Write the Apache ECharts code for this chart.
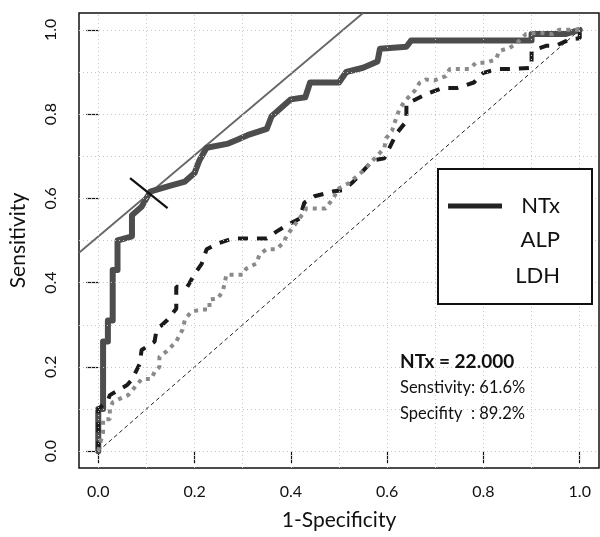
<!DOCTYPE html>
<html>
<head>
<meta charset="utf-8">
<script src="https://cdn.jsdelivr.net/npm/echarts@6/dist/echarts.min.js"></script>
<style>
  html, body { margin: 0; padding: 0; background: #fff; }
  #chart { width: 600px; height: 537px; }
</style>
</head>
<body>
<div id="chart"></div>
<script>
// tick labels and dotted grid positions
const xTicks = [0, 0.2, 0.4, 0.6, 0.8, 1.0]
const yTicks = [0, 0.2, 0.4, 0.6, 0.8, 1.0]
const gridSteps = [0, 0.1, 0.2, 0.3, 0.4, 0.5, 0.6, 0.7, 0.8, 0.9, 1.0]

// NTx ROC curve (1-specificity, sensitivity)
const ntxX = [0, 0, 0.01, 0.01, 0.02, 0.02, 0.03, 0.03, 0.04, 0.04, 0.07, 0.07, 0.09, 0.1, 0.108, 0.12, 0.15, 0.18, 0.2, 0.21, 0.225, 0.27, 0.29, 0.31, 0.35, 0.36, 0.38, 0.4, 0.43, 0.44, 0.5, 0.515, 0.55, 0.58, 0.585, 0.64, 0.65, 0.9, 0.9, 0.97, 1.0]
const ntxY = [0, 0.1, 0.1, 0.26, 0.26, 0.31, 0.31, 0.43, 0.43, 0.5, 0.51, 0.56, 0.58, 0.6, 0.616, 0.62, 0.63, 0.64, 0.66, 0.69, 0.72, 0.73, 0.74, 0.75, 0.765, 0.795, 0.815, 0.835, 0.84, 0.875, 0.875, 0.9, 0.91, 0.925, 0.955, 0.96, 0.975, 0.975, 0.99, 0.99, 1.0]

// ALP ROC curve
const alpX = [0, 0, 0.02, 0.024, 0.06, 0.07, 0.086, 0.09, 0.117, 0.121, 0.144, 0.162, 0.162, 0.185, 0.2, 0.215, 0.225, 0.248, 0.28, 0.35, 0.37, 0.39, 0.418, 0.428, 0.449, 0.49, 0.51, 0.53, 0.549, 0.57, 0.594, 0.62, 0.64, 0.64, 0.68, 0.715, 0.745, 0.78, 0.8, 0.83, 0.86, 0.9, 0.9, 0.93, 0.95, 0.98, 1.0, 1.0]
const alpY = [0, 0.1, 0.12, 0.133, 0.157, 0.17, 0.207, 0.24, 0.26, 0.288, 0.312, 0.338, 0.39, 0.39, 0.42, 0.445, 0.479, 0.493, 0.505, 0.505, 0.521, 0.535, 0.552, 0.59, 0.605, 0.617, 0.62, 0.64, 0.664, 0.69, 0.695, 0.755, 0.783, 0.824, 0.847, 0.862, 0.862, 0.875, 0.898, 0.907, 0.907, 0.91, 0.95, 0.962, 0.962, 0.978, 0.98, 1.0]

// LDH ROC curve
const ldhX = [0, 0.01, 0.01, 0.024, 0.024, 0.03, 0.044, 0.062, 0.09, 0.11, 0.117, 0.127, 0.127, 0.141, 0.162, 0.169, 0.175, 0.18, 0.193, 0.215, 0.231, 0.231, 0.248, 0.258, 0.262, 0.266, 0.283, 0.3, 0.307, 0.328, 0.335, 0.349, 0.37, 0.383, 0.393, 0.424, 0.432, 0.451, 0.472, 0.488, 0.5, 0.52, 0.549, 0.594, 0.598, 0.61, 0.62, 0.625, 0.636, 0.657, 0.667, 0.68, 0.698, 0.722, 0.73, 0.75, 0.77, 0.785, 0.805, 0.826, 0.833, 0.854, 0.868, 0.888, 0.915, 0.943, 0.957, 1.0]
const ldhY = [0, 0.045, 0.076, 0.076, 0.1, 0.116, 0.124, 0.133, 0.171, 0.171, 0.188, 0.2, 0.224, 0.236, 0.26, 0.276, 0.288, 0.312, 0.331, 0.336, 0.336, 0.36, 0.362, 0.379, 0.395, 0.419, 0.419, 0.419, 0.433, 0.445, 0.467, 0.479, 0.479, 0.493, 0.514, 0.562, 0.576, 0.576, 0.576, 0.6, 0.624, 0.636, 0.664, 0.719, 0.743, 0.76, 0.795, 0.81, 0.83, 0.855, 0.874, 0.882, 0.88, 0.89, 0.907, 0.907, 0.907, 0.922, 0.922, 0.93, 0.95, 0.957, 0.967, 0.99, 0.993, 0.99, 1.0, 1.0]

// chance diagonal, tangent at the cut-off and the cut-off mark
const diagX = [0, 1]
const diagY = [0, 1]
const tangentX = [-0.04, 0.55]
const tangentY = [0.471, 1.04]
const cutX = [0.066, 0.144]
const cutY = [0.648, 0.577]

const pairs = (xs, ys) => xs.map((x, i) => [x, ys[i]])
const font = 'Lato, "Open Sans", sans-serif'

const gridMarks = gridSteps.map(v => ({ xAxis: v })).concat(gridSteps.map(v => ({ yAxis: v })))

const chart = echarts.init(document.getElementById('chart'))
chart.setOption({
  animation: false,
  backgroundColor: '#fff',
  grid: {
    left: 78,
    right: 1,
    top: 13,
    bottom: 69,
    show: true,
    borderColor: '#111',
    borderWidth: 1.5
  },
  xAxis: {
    type: 'value',
    min: -0.04,
    max: 1.04,
    name: '1-Specificity',
    nameLocation: 'middle',
    nameGap: 42,
    nameTextStyle: { fontFamily: font, fontSize: 21, color: '#111' },
    axisLine: { show: false },
    axisTick: { show: true, length: 12, customValues: xTicks, lineStyle: { color: '#111', width: 1.2 } },
    axisLabel: {
      customValues: xTicks,
      margin: 16,
      fontFamily: font,
      fontSize: 16,
      color: '#111',
      formatter: v => v.toFixed(1)
    },
    splitLine: { show: false }
  },
  yAxis: {
    type: 'value',
    min: -0.04,
    max: 1.04,
    name: 'Sensitivity',
    nameLocation: 'middle',
    nameGap: 50,
    nameTextStyle: { fontFamily: font, fontSize: 21, color: '#111' },
    axisLine: { show: false },
    axisTick: { show: true, length: 12, customValues: yTicks, lineStyle: { color: '#111', width: 1.2 } },
    axisLabel: {
      customValues: yTicks,
      rotate: 90,
      margin: 20,
      fontFamily: font,
      fontSize: 16,
      color: '#111',
      formatter: v => v.toFixed(1)
    },
    splitLine: { show: false }
  },
  series: [
    {
      name: 'diagonal',
      type: 'line',
      data: pairs(diagX, diagY),
      symbol: 'none',
      lineStyle: { color: '#222', width: 1, type: [4, 3] },
      markLine: {
        silent: true,
        symbol: 'none',
        label: { show: false },
        lineStyle: { color: '#c6c6c6', type: [1, 3], width: 1 },
        data: gridMarks
      },
      z: 2
    },
    {
      name: 'tangent',
      type: 'line',
      data: pairs(tangentX, tangentY),
      symbol: 'none',
      clip: true,
      lineStyle: { color: '#666', width: 1.8 },
      z: 2
    },
    {
      name: 'NTx',
      type: 'line',
      data: pairs(ntxX, ntxY),
      symbol: 'none',
      lineStyle: { color: '#4d4d4d', width: 6, join: 'round', cap: 'round' },
      z: 3
    },
    {
      name: 'ALP',
      type: 'line',
      data: pairs(alpX, alpY),
      symbol: 'none',
      lineStyle: { color: '#1a1a1a', width: 4, type: [10, 9] },
      z: 4
    },
    {
      name: 'LDH',
      type: 'line',
      data: pairs(ldhX, ldhY),
      symbol: 'none',
      lineStyle: { color: '#8a8a8a', width: 4, type: [4, 5] },
      z: 5
    },
    {
      name: 'cut-off',
      type: 'line',
      data: pairs(cutX, cutY),
      symbol: 'none',
      lineStyle: { color: '#111', width: 2.2 },
      z: 6
    }
  ],
  graphic: [
    {
      type: 'rect',
      shape: { x: 438, y: 169, width: 154, height: 135 },
      style: { fill: '#fff', stroke: '#111', lineWidth: 2 },
      z: 10
    },
    {
      type: 'line',
      shape: { x1: 448, y1: 206, x2: 502, y2: 206 },
      style: { stroke: '#222', lineWidth: 5 },
      z: 11
    },
    { type: 'text', x: 560, y: 206, style: { text: 'NTx', font: '22px ' + font, fill: '#111', align: 'right', verticalAlign: 'middle' }, z: 11 },
    { type: 'text', x: 560, y: 240, style: { text: 'ALP', font: '22px ' + font, fill: '#111', align: 'right', verticalAlign: 'middle' }, z: 11 },
    { type: 'text', x: 560, y: 276, style: { text: 'LDH', font: '22px ' + font, fill: '#111', align: 'right', verticalAlign: 'middle' }, z: 11 },
    { type: 'text', x: 400, y: 362, style: { text: 'NTx = 22.000', font: 'bold 19px ' + font, fill: '#111', verticalAlign: 'middle' }, z: 11 },
    { type: 'text', x: 400, y: 388, style: { text: 'Senstivity: 61.6%', font: '16.5px ' + font, fill: '#111', verticalAlign: 'middle' }, z: 11 },
    { type: 'text', x: 400, y: 414, style: { text: 'Specifity  : 89.2%', font: '16.5px ' + font, fill: '#111', verticalAlign: 'middle' }, z: 11 }
  ]
})
</script>
</body>
</html>
